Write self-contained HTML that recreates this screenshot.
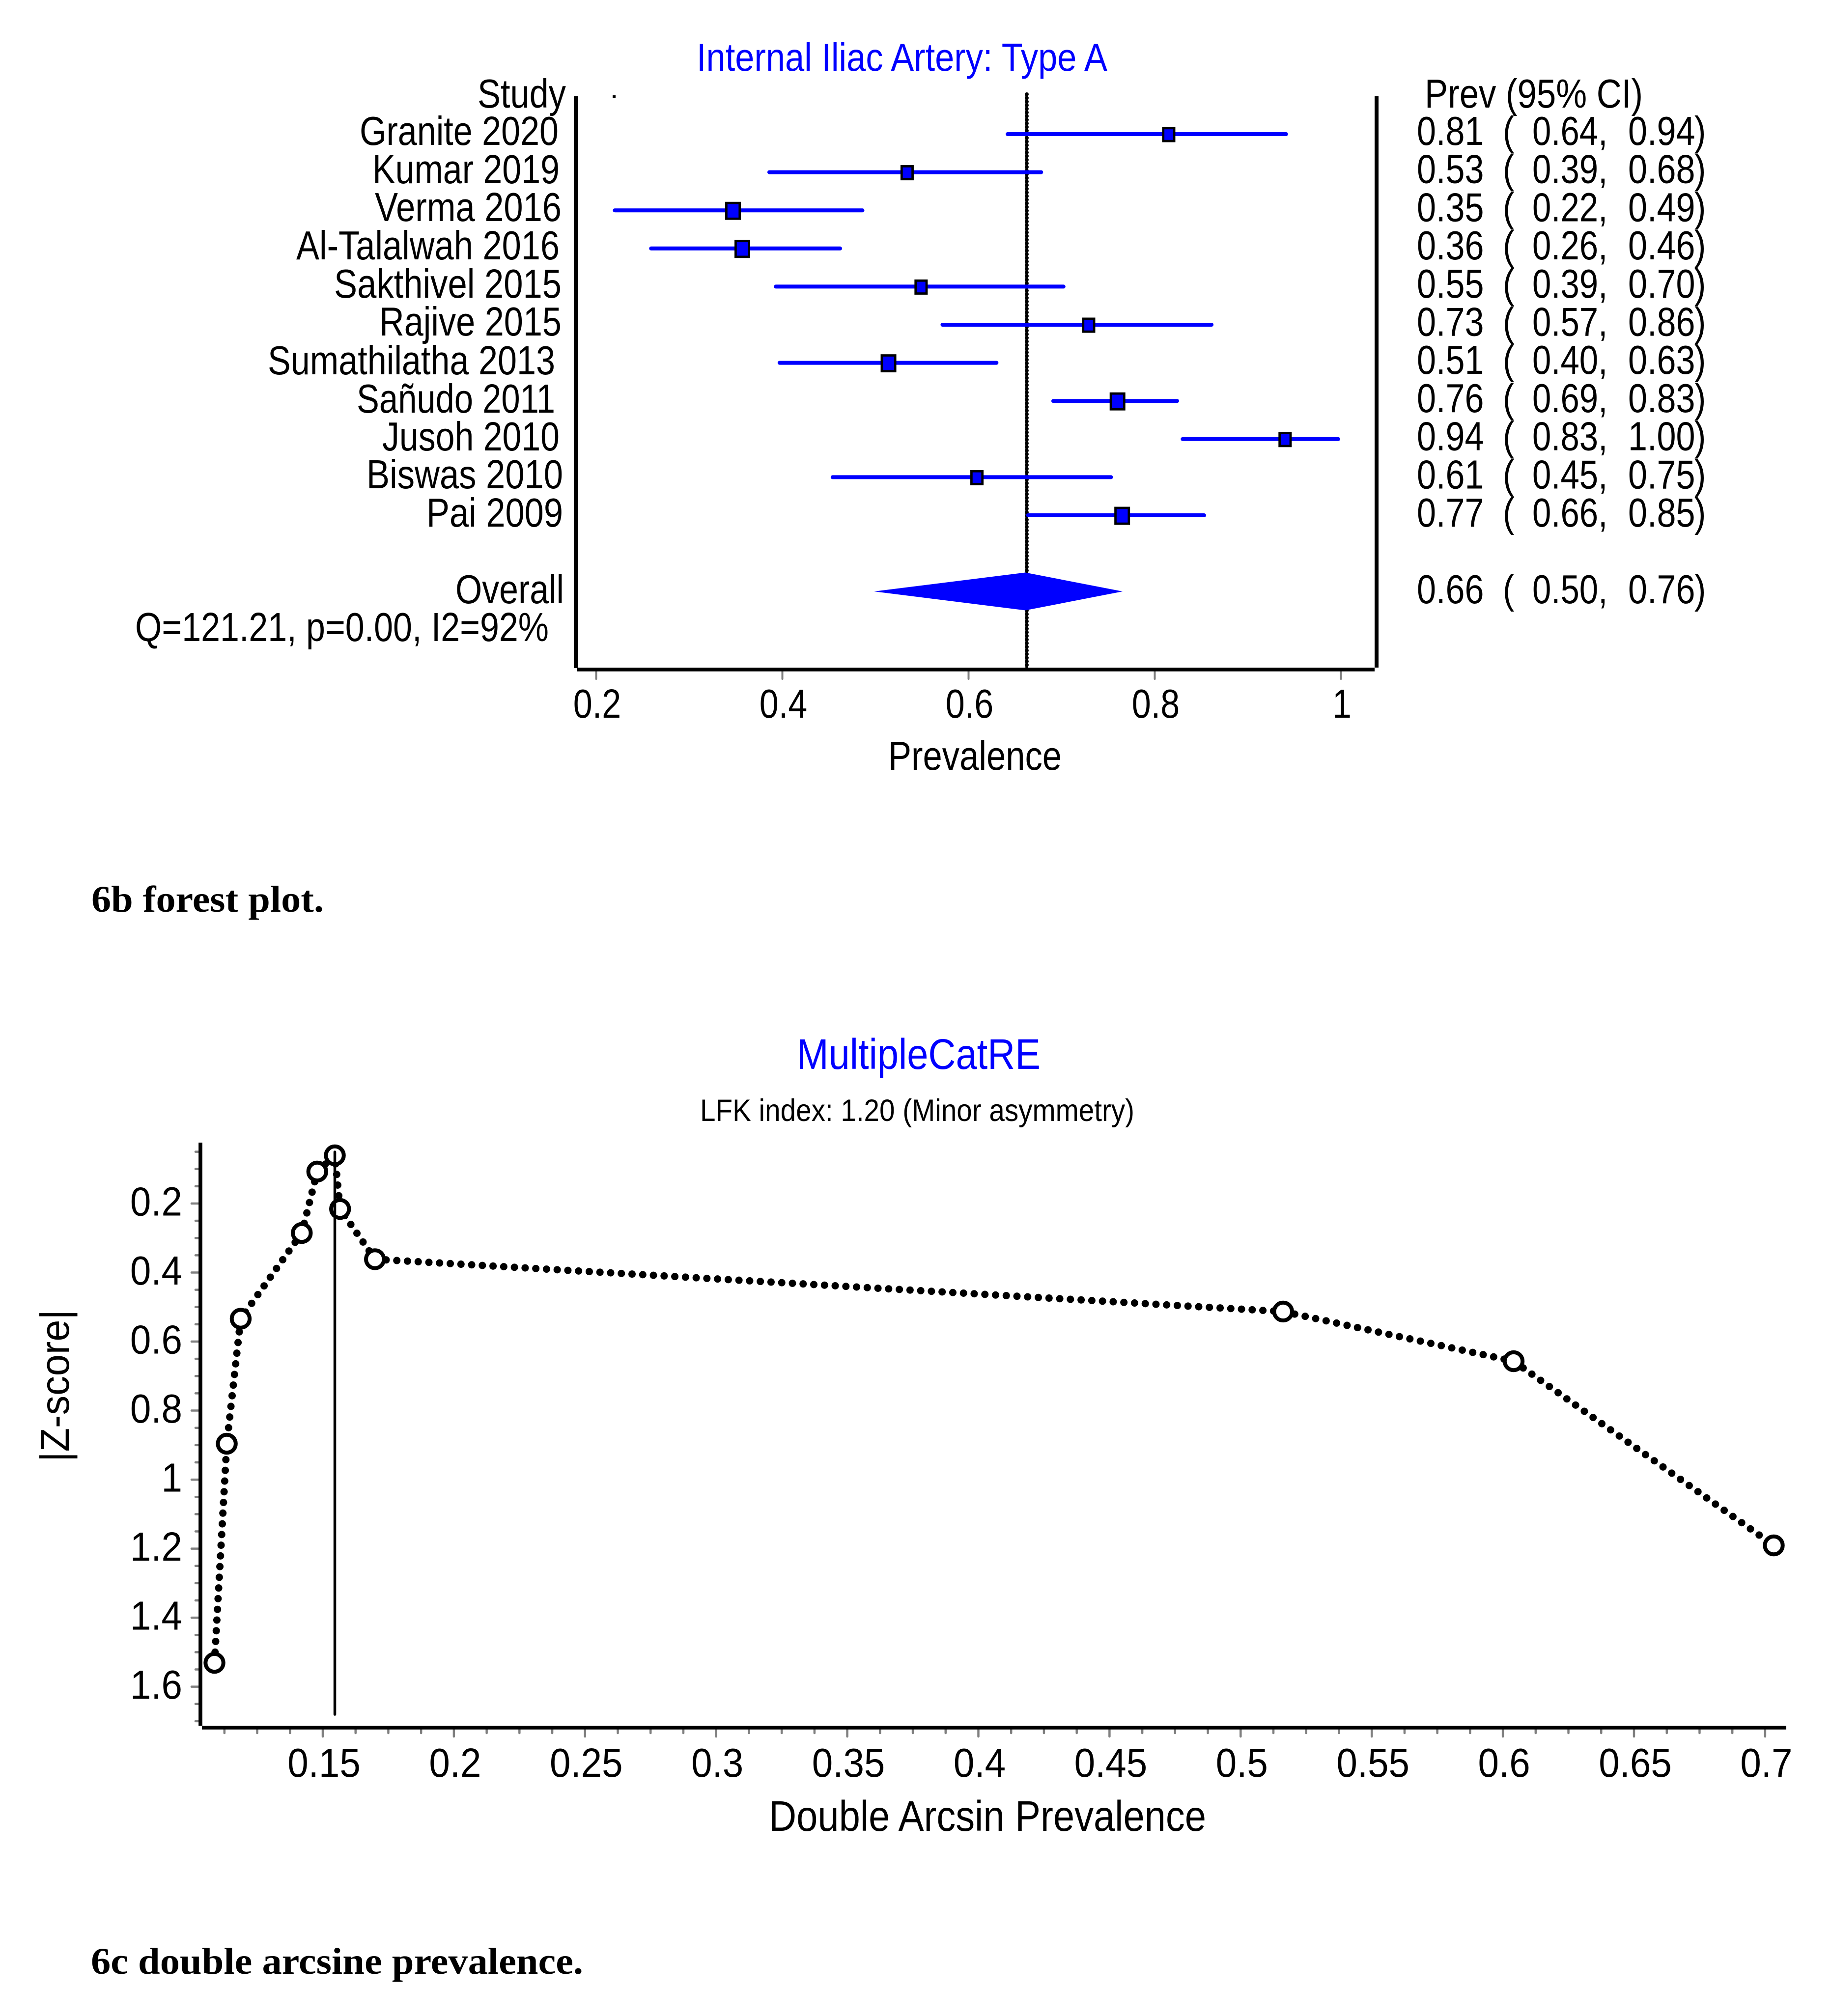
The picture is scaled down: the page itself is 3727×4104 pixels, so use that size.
<!DOCTYPE html>
<html lang="en">
<head>
<meta charset="utf-8">
<title>Forest plot and double arcsine prevalence plot</title>
<style>
html,body{margin:0;padding:0;background:#fff;}
svg{display:block;}
text{font-family:"Liberation Sans",Arial,sans-serif;font-size:83px;fill:#000;}
.cap{font-family:"Liberation Serif",serif;font-weight:bold;font-size:76px;}
</style>
</head>
<body>
<svg id="page" xmlns="http://www.w3.org/2000/svg" width="3727" height="4104" viewBox="0 0 3727 4104">
  <rect x="0" y="0" width="3727" height="4104" fill="#fff"/>

  <text x="1418" y="144" textLength="836" lengthAdjust="spacingAndGlyphs" style="fill:#0000ff;font-size:80px">Internal Iliac Artery: Type A</text>
  <text x="972" y="219" textLength="180" lengthAdjust="spacingAndGlyphs">Study</text>
  <text x="2900" y="219" textLength="444" lengthAdjust="spacingAndGlyphs">Prev (95% CI)</text>

  <g>
    <text x="732" y="295" textLength="405" lengthAdjust="spacingAndGlyphs">Granite 2020</text>
    <text x="758" y="373" textLength="381" lengthAdjust="spacingAndGlyphs">Kumar 2019</text>
    <text x="763" y="450" textLength="380" lengthAdjust="spacingAndGlyphs">Verma 2016</text>
    <text x="603" y="528" textLength="536" lengthAdjust="spacingAndGlyphs">Al-Talalwah 2016</text>
    <text x="680" y="606" textLength="463" lengthAdjust="spacingAndGlyphs">Sakthivel 2015</text>
    <text x="772" y="683" textLength="371" lengthAdjust="spacingAndGlyphs">Rajive 2015</text>
    <text x="545" y="762" textLength="585" lengthAdjust="spacingAndGlyphs">Sumathilatha 2013</text>
    <text x="726" y="840" textLength="404" lengthAdjust="spacingAndGlyphs">Sañudo 2011</text>
    <text x="778" y="917" textLength="361" lengthAdjust="spacingAndGlyphs">Jusoh 2010</text>
    <text x="746" y="994" textLength="400" lengthAdjust="spacingAndGlyphs">Biswas 2010</text>
    <text x="868" y="1072" textLength="278" lengthAdjust="spacingAndGlyphs">Pai 2009</text>
    <text x="927" y="1228" textLength="221" lengthAdjust="spacingAndGlyphs">Overall</text>
    <text x="275" y="1305" textLength="842" lengthAdjust="spacingAndGlyphs">Q=121.21, p=0.00, I2=92%</text>
  </g>

  <g id="forest-layer"></g>

  <text x="1808" y="1567" textLength="353" lengthAdjust="spacingAndGlyphs">Prevalence</text>
  <text class="cap" x="186" y="1856" textLength="473" lengthAdjust="spacingAndGlyphs">6b forest plot.</text>

  <text x="1622" y="2176" textLength="496" lengthAdjust="spacingAndGlyphs" style="fill:#0000ff;font-size:87px">MultipleCatRE</text>
  <text x="1425" y="2282" textLength="884" lengthAdjust="spacingAndGlyphs" style="font-size:63px">LFK index: 1.20 (Minor asymmetry)</text>

  <g id="doi-layer"></g>

  <text transform="translate(140,2976) rotate(-90)" textLength="310" lengthAdjust="spacingAndGlyphs" x="0" y="0">|Z-score|</text>
  <text x="1565" y="3727" textLength="890" lengthAdjust="spacingAndGlyphs" style="font-size:87px">Double Arcsin Prevalence</text>
  <text class="cap" x="185" y="4018" textLength="1002" lengthAdjust="spacingAndGlyphs">6c double arcsine prevalence.</text>
</svg>

<script>
/* ---------- forest plot data ---------- */
const studyKeys = ['granite-2020','kumar-2019','verma-2016','al-talalwah-2016','sakthivel-2015','rajive-2015','sumathilatha-2013','sanudo-2011','jusoh-2010','biswas-2010','pai-2009'];
const studyPrev = [0.815,0.534,0.347,0.357,0.549,0.729,0.514,0.760,0.940,0.609,0.765];
const studyLow  = [0.642,0.386,0.220,0.259,0.393,0.572,0.397,0.691,0.830,0.454,0.664];
const studyHigh = [0.941,0.678,0.486,0.462,0.702,0.861,0.630,0.824,0.997,0.753,0.853];
const studyWeight = [9.0,9.0,11.0,11.0,9.0,9.0,11.0,11.0,9.0,9.0,11.0];
const overallValues = [0.661];
const overallLow = [0.4985];
const overallHigh = [0.7655];
const overallLine = [0.6625];
const forestTicks = [0.2,0.4,0.6,0.8,1];
const forestTickLabels = ['0.2','0.4','0.6','0.8','1'];
const printedPrev = ['0.81','0.53','0.35','0.36','0.55','0.73','0.51','0.76','0.94','0.61','0.77','0.66'];
const printedLow  = ['0.64,','0.39,','0.22,','0.26,','0.39,','0.57,','0.40,','0.69,','0.83,','0.45,','0.66,','0.50,'];
const printedHigh = ['0.94','0.68','0.49','0.46','0.70','0.86','0.63','0.83','1.00','0.75','0.85','0.76'];

/* ---------- double arcsine (Doi) plot data ---------- */
const doiPrevalence = [0.1087,0.1134,0.1187,0.1420,0.1479,0.1546,0.1566,0.1699,0.5162,0.6041,0.7033];
const doiZScore = [1.5308,0.8960,0.5339,0.2854,0.1075,0.0605,0.2157,0.3615,0.5131,0.6569,1.1906];
const doiReference = [0.1546];
const doiXTicks = [0.15,0.2,0.25,0.3,0.35,0.4,0.45,0.5,0.55,0.6,0.65,0.7];
const doiXTickLabels = ['0.15','0.2','0.25','0.3','0.35','0.4','0.45','0.5','0.55','0.6','0.65','0.7'];
const doiYTicks = [0.2,0.4,0.6,0.8,1,1.2,1.4,1.6];
const doiYTickLabels = ['0.2','0.4','0.6','0.8','1','1.2','1.4','1.6'];

/* ---------- helpers & axis functions ---------- */
const NS = 'http://www.w3.org/2000/svg';
function make(tag, parent, attrs){
  const n = document.createElementNS(NS, tag);
  for (const k in attrs) n.setAttribute(k, attrs[k]);
  parent.appendChild(n);
  return n;
}
function label(parent, str, x, y, sx, anchor){
  const n = make('text', parent, {transform:'translate('+x+','+y+') scale('+sx+',1)', 'text-anchor':anchor||'start'});
  n.textContent = str;
  return n;
}
const fx = v => 1213.5 + (v - 0.2) * 1895;
const fy = i => 273 + 77.6 * i;
const dx = v => 657 + (v - 0.15) * 5338;
const dy = v => 2450 + (v - 0.2) * 702.6;

/* ---------- forest plot ---------- */
const forest = document.getElementById('forest-layer');

forestTicks.forEach(function(v, i){
  const t = make('line', forest, {x1:fx(v),y1:1365,x2:fx(v),y2:1382,stroke:'#808080','stroke-width':4,'stroke-linecap':'round'});
  
  
  const l = label(forest, forestTickLabels[i], fx(v)+2, 1461, 0.845, 'middle');
  
  
});

const leftAxis = make('line', forest, {x1:1172,y1:196,x2:1172,y2:1360,stroke:'#000','stroke-width':8});



const rightAxis = make('line', forest, {x1:2802,y1:196,x2:2802,y2:1359,stroke:'#000','stroke-width':8});



const bottomAxis = make('line', forest, {x1:1175,y1:1363,x2:2798,y2:1363,stroke:'#000','stroke-width':7.5});



const headDot = make('rect', forest, {x:1247,y:194,width:6,height:6,fill:'#000'});



const refCore = make('line', forest, {x1:fx(overallLine[0]),y1:192,x2:fx(overallLine[0]),y2:1360,stroke:'#000','stroke-width':5.5});



const refBeads = make('line', forest, {x1:fx(overallLine[0]),y1:192,x2:fx(overallLine[0]),y2:1360,stroke:'#000','stroke-width':8,'stroke-linecap':'round','stroke-dasharray':'0 7.4'});



studyPrev.forEach(function(v, i){
  const ci = make('line', forest, {x1:fx(studyLow[i]),y1:fy(i),x2:fx(studyHigh[i]),y2:fy(i),stroke:'#0000ff','stroke-width':8,'stroke-linecap':'round'});
  
  
  const w = studyWeight[i] * 2.48;
  const h = studyWeight[i] * 2.92;
  const m = make('rect', forest, {x:fx(v)-w/2,y:fy(i)+1-h/2,width:w,height:h,fill:'#0000ff',stroke:'#000','stroke-width':4.7});
  
  
});

const overallY = 1204;
const diamond = make('polygon', forest, {points:[
  fx(overallLow[0])+','+overallY,
  fx(overallValues[0])+','+(overallY-38.5),
  fx(overallHigh[0])+','+overallY,
  fx(overallValues[0])+','+(overallY+38.5)
].join(' '),fill:'#0000ff'});



printedPrev.forEach(function(str, i){
  const y = i < 11 ? 295 + 77.7 * i : 1228;
  const a = label(forest, str, 2884, y, 0.845);
  
  
  const b = label(forest, '(', 3059, y, 0.845);
  
  
  const c = label(forest, printedLow[i], 3119, y, 0.83);
  
  
  const d = label(forest, printedHigh[i], 3314, y, 0.845);
  
  
  const e = label(forest, ')', 3449, y, 0.845);
  
  
});

/* ---------- Doi plot ---------- */
const doi = document.getElementById('doi-layer');

for (let k = 1; k <= 34; k++){
  if (k % 4 === 0) continue;
  const t = make('line', doi, {x1:398,y1:dy(k*0.05),x2:405,y2:dy(k*0.05),stroke:'#808080','stroke-width':4.5,'stroke-linecap':'round'});
  
  
}
doiYTicks.forEach(function(v, i){
  const t = make('line', doi, {x1:390,y1:dy(v),x2:405,y2:dy(v),stroke:'#808080','stroke-width':4.5,'stroke-linecap':'round'});
  
  
  const l = label(doi, doiYTickLabels[i], 371, dy(v)+24.5, 0.92, 'end');
  
  
});
for (let k = 9; k <= 56; k++){
  if (k % 4 === 0) continue;
  const xv = k * 0.0125;
  const t = make('line', doi, {x1:dx(xv),y1:3520,x2:dx(xv),y2:3528,stroke:'#808080','stroke-width':4.5,'stroke-linecap':'round'});
  
  
}
doiXTicks.forEach(function(v, i){
  const t = make('line', doi, {x1:dx(v),y1:3520,x2:dx(v),y2:3535,stroke:'#808080','stroke-width':4.5,'stroke-linecap':'round'});
  
  
  const l = label(doi, doiXTickLabels[i], dx(v)+2.5, 3617, 0.92, 'middle');
  
  
});

const dLeft = make('line', doi, {x1:408,y1:2326,x2:408,y2:3513,stroke:'#000','stroke-width':7.7});



const dBottom = make('line', doi, {x1:411,y1:3517,x2:3636,y2:3517,stroke:'#000','stroke-width':7.5});



const dotted = make('polyline', doi, {
  points: doiPrevalence.map(function(v, i){ return dx(v) + ',' + dy(doiZScore[i]); }).join(' '),
  fill:'none',stroke:'#000','stroke-width':15,'stroke-linecap':'round','stroke-dasharray':'0 21.8'
});



doiPrevalence.forEach(function(v, i){
  const c = make('circle', doi, {cx:dx(v),cy:dy(doiZScore[i]),r:18.2,fill:'#fff',stroke:'#000','stroke-width':8});
  
  
});

const dRef = make('line', doi, {x1:dx(doiReference[0]),y1:2345,x2:dx(doiReference[0]),y2:3490,stroke:'#000','stroke-width':5.5,'stroke-linecap':'round'});


</script>
</body>
</html>
